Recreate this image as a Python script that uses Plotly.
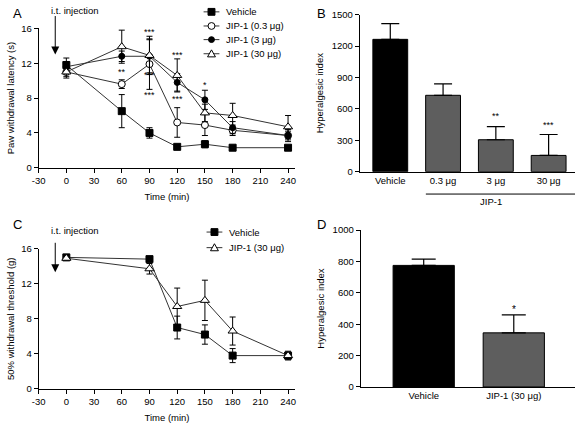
import plotly.graph_objects as go

# ---------------- Data ----------------
time_a = [0, 60, 90, 120, 150, 180, 240]
veh_a = [11.8, 6.5, 4.0, 2.4, 2.7, 2.3, 2.3]
veh_a_err = [0.8, 1.9, 0.6, 0.2, 0.4, 0.15, 0.2]
jip03_a = [11.0, 9.6, 11.9, 5.2, 4.9, 4.3, 3.7]
jip03_a_err = [0.5, 0.5, 2.9, 1.7, 1.2, 0.6, 0.5]
jip3_a = [11.6, 12.8, 12.8, 9.8, 7.8, 4.6, 3.7]
jip3_a_err = [0.5, 0.6, 1.9, 1.0, 1.1, 0.7, 0.7]
jip30_a = [11.0, 13.9, 12.9, 10.6, 6.3, 6.0, 4.7]
jip30_a_err = [0.7, 1.9, 2.2, 1.9, 1.0, 1.4, 1.3]

stars_a_x = [60, 60, 90, 90, 90, 120, 120, 150]
stars_a_y = [16.4, 11.0, 15.6, 10.6, 8.4, 13.0, 7.9, 9.5]
stars_a_t = ["***", "**", "***", "***", "***", "***", "***", "*"]

cat_b = ["Vehicle", "0.3 μg", "3 μg", "30 μg"]
val_b = [1265, 730, 305, 155]
err_b = [150, 110, 125, 200]
stars_b = ["", "", "**", "***"]
stars_b_y = [0, 0, 531, 447]

time_c = [0, 90, 120, 150, 180, 240]
veh_c = [15.0, 14.8, 7.0, 6.2, 3.8, 3.8]
veh_c_err = [0.2, 0.2, 1.3, 1.1, 0.8, 0.4]
jip30_c = [14.9, 13.7, 9.4, 10.1, 6.6, 3.8]
jip30_c_err = [0.2, 0.6, 2.1, 2.3, 1.6, 0.5]

cat_d = ["Vehicle", "JIP-1 (30 μg)"]
val_d = [775, 345]
err_d = [40, 115]
stars_d_y = [497]

x_ticks = [-30, 0, 30, 60, 90, 120, 150, 180, 210, 240]
x_ticktext = ["-30", "0", "30", "60", "90", "120", "150", "180", "210", "240"]

legend_a = ["Vehicle", "JIP-1 (0.3 μg)", "JIP-1 (3 μg)", "JIP-1 (30 μg)"]
legend_c = ["Vehicle", "JIP-1 (30 μg)"]

FONT = "Liberation Sans, Arial, sans-serif"
W, H = 577, 429


def px(x):
    return x / W


def py(y):
    return 1 - y / H


fig = go.Figure()
line_col = "#333333"

# marker styles: (symbol, fill, size)
STY = {
    "veh": ("square", "black", 7),
    "j03": ("circle", "white", 7),
    "j3": ("circle", "black", 6),
    "j30": ("triangle-up", "white", 8),
}


def line_trace(x, y, err, name, sty, xa, ya):
    sym, fill, size = STY[sty]
    return go.Scatter(
        x=x, y=y, name=name, mode="lines+markers", showlegend=False,
        line=dict(color=line_col, width=1),
        marker=dict(symbol=sym, size=size, color=fill,
                    line=dict(color="black", width=1)),
        error_y=dict(type="data", array=err, color="black", thickness=1, width=3),
        xaxis=xa, yaxis=ya, cliponaxis=False,
    )


fig.add_trace(line_trace(time_a, veh_a, veh_a_err, legend_a[0], "veh", "x", "y"))
fig.add_trace(line_trace(time_a, jip03_a, jip03_a_err, legend_a[1], "j03", "x", "y"))
fig.add_trace(line_trace(time_a, jip3_a, jip3_a_err, legend_a[2], "j3", "x", "y"))
fig.add_trace(line_trace(time_a, jip30_a, jip30_a_err, legend_a[3], "j30", "x", "y"))

fig.add_trace(line_trace(time_c, veh_c, veh_c_err, legend_c[0], "veh", "x3", "y3"))
fig.add_trace(line_trace(time_c, jip30_c, jip30_c_err, legend_c[1], "j30", "x3", "y3"))

fig.add_trace(go.Bar(
    x=cat_b, y=val_b, marker=dict(color=["black", "#5e5e5e", "#5e5e5e", "#5e5e5e"],
                                  line=dict(color="black", width=1)),
    width=0.66, showlegend=False,
    error_y=dict(type="data", array=err_b, arrayminus=[0] * 4, symmetric=False,
                 color="black", thickness=1.2, width=9),
    xaxis="x2", yaxis="y2"))

fig.add_trace(go.Bar(
    x=cat_d, y=val_d, marker=dict(color=["black", "#5e5e5e"],
                                  line=dict(color="black", width=1)),
    width=0.68, showlegend=False,
    error_y=dict(type="data", array=err_d, arrayminus=[0] * 2, symmetric=False,
                 color="black", thickness=1.2, width=12),
    xaxis="x4", yaxis="y4"))

axis_common = dict(showgrid=False, zeroline=False, showline=True, linecolor="black",
                   linewidth=1, ticks="outside", ticklen=4, tickcolor="black",
                   tickfont=dict(family=FONT, size=9.5, color="black"))
cat_axis = dict(showgrid=False, zeroline=False, showline=True, linecolor="black", linewidth=1,
                ticks="", tickfont=dict(family=FONT, size=9.5, color="black"))
title_font = dict(family=FONT, size=9.5, color="black")

fig.update_layout(
    width=W, height=H, margin=dict(l=0, r=0, t=0, b=0),
    paper_bgcolor="white", plot_bgcolor="white", showlegend=False,
    font=dict(family=FONT, size=9.5, color="black"),
    xaxis=dict(domain=[px(32), px(292)], range=[-30, 248], tickvals=x_ticks, ticktext=x_ticktext,
               anchor="y", title=dict(text="Time (min)", font=title_font, standoff=8), **axis_common),
    yaxis=dict(domain=[py(166), py(23)], range=[0, 16], tickvals=[0, 4, 8, 12, 16],
               anchor="x", title=dict(text="Paw withdrawal latency (s)", font=title_font, standoff=4),
               **axis_common),
    xaxis2=dict(domain=[px(357), px(575)], range=[-0.58, 3.5], anchor="y2", **cat_axis),
    yaxis2=dict(domain=[py(170), py(9)], range=[0, 1500], tickvals=[0, 300, 600, 900, 1200, 1500],
                anchor="x2", title=dict(text="Hyperalgesic index", font=title_font, standoff=6),
                **axis_common),
    xaxis3=dict(domain=[px(32), px(292)], range=[-30, 248], tickvals=x_ticks, ticktext=x_ticktext,
                anchor="y3", title=dict(text="Time (min)", font=title_font, standoff=8), **axis_common),
    yaxis3=dict(domain=[py(393), py(249)], range=[0, 16], tickvals=[0, 4, 8, 12, 16],
                anchor="x3", title=dict(text="50% withdrawal threshold (g)", font=title_font, standoff=4),
                **axis_common),
    xaxis4=dict(domain=[px(358), px(575)], range=[-0.7, 1.68], anchor="y4", **cat_axis),
    yaxis4=dict(domain=[py(391), py(230)], range=[0, 1000], tickvals=[0, 200, 400, 600, 800, 1000],
                anchor="x4", title=dict(text="Hyperalgesic index", font=title_font, standoff=6),
                **axis_common),
)

annotations = []
shapes = []
for x, y, t in zip(stars_a_x, stars_a_y, stars_a_t):
    annotations.append(dict(x=x, y=y, xref="x", yref="y", text=t, showarrow=False,
                            font=dict(family=FONT, size=9, color="black")))
for c, t, y in zip(cat_b, stars_b, stars_b_y):
    if t:
        annotations.append(dict(x=c, y=y, xref="x2", yref="y2", text=t, showarrow=False,
                                font=dict(family=FONT, size=9, color="black")))
annotations.append(dict(x=cat_d[1], y=stars_d_y[0], xref="x4", yref="y4", text="*", showarrow=False,
                        font=dict(family=FONT, size=10, color="black")))

# arrows / injection labels
annotations.append(dict(x=-12, y=13.0, xref="x", yref="y", ax=0, ay=-40, showarrow=True,
                        arrowhead=2, arrowsize=1.6, arrowwidth=1, arrowcolor="black", text=""))
annotations.append(dict(x=px(43), y=py(5), xref="paper", yref="paper", text="i.t. injection",
                        showarrow=False, xanchor="left", yanchor="middle",
                        font=dict(family=FONT, size=9.5)))
annotations.append(dict(x=-12, y=13.3, xref="x3", yref="y3", ax=0, ay=-31, showarrow=True,
                        arrowhead=2, arrowsize=1.6, arrowwidth=1, arrowcolor="black", text=""))
annotations.append(dict(x=px(43), y=py(230), xref="paper", yref="paper", text="i.t. injection",
                        showarrow=False, xanchor="left", yanchor="middle",
                        font=dict(family=FONT, size=9.5)))

# panel letters
for letter, x, y in [("A", 4, 8), ("B", 312, 8), ("C", 4, 224), ("D", 312, 224)]:
    annotations.append(dict(x=px(x), y=py(y), xref="paper", yref="paper", text=letter,
                            showarrow=False, xanchor="left", yanchor="middle",
                            font=dict(family=FONT, size=13, color="black")))

# JIP-1 group label in B
annotations.append(dict(x=px(490), y=py(201), xref="paper", yref="paper", text="JIP-1",
                        showarrow=False, xanchor="center", yanchor="middle",
                        font=dict(family=FONT, size=9.5)))
shapes.append(dict(type="line", xref="paper", yref="paper", x0=px(424), x1=px(575),
                   y0=py(193), y1=py(193), line=dict(color="black", width=1)))


# ---- hand-drawn legend keys (compact, GraphPad style) ----
def legend_key(cx, cy, sty, label, x_line0, x_line1, x_text):
    sym, fill, size = STY[sty]
    shapes.append(dict(type="line", xref="paper", yref="paper", x0=px(x_line0), x1=px(x_line1),
                       y0=py(cy), y1=py(cy), line=dict(color=line_col, width=1)))
    r = size / 2
    if sym == "square":
        shapes.append(dict(type="rect", xref="paper", yref="paper", x0=px(cx - r), x1=px(cx + r),
                           y0=py(cy + r), y1=py(cy - r), fillcolor=fill,
                           line=dict(color="black", width=1)))
    elif sym == "circle":
        shapes.append(dict(type="circle", xref="paper", yref="paper", x0=px(cx - r), x1=px(cx + r),
                           y0=py(cy + r), y1=py(cy - r), fillcolor=fill,
                           line=dict(color="black", width=1)))
    else:
        path = "M {} {} L {} {} L {} {} Z".format(px(cx - r), py(cy + r * 0.8), px(cx + r),
                                                  py(cy + r * 0.8), px(cx), py(cy - r))
        shapes.append(dict(type="path", xref="paper", yref="paper", path=path, fillcolor=fill,
                           line=dict(color="black", width=1)))
    annotations.append(dict(x=px(x_text), y=py(cy), xref="paper", yref="paper", text=label,
                            showarrow=False, xanchor="left", yanchor="middle",
                            font=dict(family=FONT, size=9.5)))


for lbl, sty, cy in zip(legend_a, ["veh", "j03", "j3", "j30"], [6, 20.5, 34.5, 49]):
    legend_key(207, cy, sty, lbl, 199, 215, 220)
for lbl, sty, cy in zip(legend_c, ["veh", "j30"], [232, 248]):
    legend_key(210, cy, sty, lbl, 202, 218, 223)

fig.update_layout(annotations=annotations, shapes=shapes)

fig.write_html("out.html", config={"displayModeBar": False},
               post_script="document.body.style.margin='0';")
